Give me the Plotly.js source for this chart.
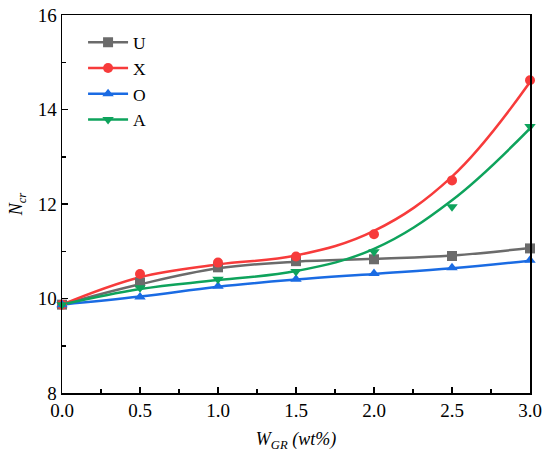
<!DOCTYPE html>
<html>
<head>
<meta charset="utf-8">
<script src="https://cdn.plot.ly/plotly-3.0.1.min.js"></script>
<style>html,body{margin:0;padding:0;background:#fff}#chart{width:550px;height:456px}</style>
</head>
<body>
<div id="chart"></div>
<script>
var xVals = [0, 0.5, 1.0, 1.5, 2.0, 2.5, 3.0];
var seriesNames = ['U', 'X', 'O', 'A'];
// measured points
var uVals = [9.87, 10.34, 10.66, 10.79, 10.83, 10.90, 11.06];
var xSerVals = [9.87, 10.52, 10.76, 10.89, 11.36, 12.50, 14.62];
var oVals = [9.87, 10.03, 10.26, 10.41, 10.53, 10.65, 10.81];
var aVals = [9.87, 10.23, 10.41, 10.57, 10.99, 11.94, 13.64];
// fitted curves
var uFit = [9.87, 10.30, 10.64, 10.78, 10.84, 10.91, 11.07];
var xFit = [9.87, 10.45, 10.72, 10.91, 11.43, 12.58, 14.58];
var oFit = [9.87, 10.04, 10.25, 10.40, 10.52, 10.64, 10.80];
var aFit = [9.87, 10.20, 10.39, 10.58, 11.05, 12.08, 13.60];
var colors = ['#6b6b6b', '#f73b3b', '#1a6be3', '#0ea35c'];
var symbols = ['square', 'circle', 'triangle-up', 'triangle-down'];
var pts = [uVals, xSerVals, oVals, aVals];
var fits = [uFit, xFit, oFit, aFit];

var traces = [];
for (var i = 0; i < 4; i++) {
  traces.push({x: xVals, y: fits[i], mode: 'lines', line: {color: colors[i], width: 2.5, shape: 'spline', smoothing: 1.1},
    showlegend: false, hoverinfo: 'skip', cliponaxis: false});
}
for (var i = 0; i < 4; i++) {
  traces.push({x: xVals, y: pts[i], mode: 'markers', marker: {color: colors[i], symbol: symbols[i], size: 10},
    showlegend: false, cliponaxis: false});
}
for (var i = 0; i < 4; i++) {
  traces.push({x: [null], y: [null], name: seriesNames[i], mode: 'lines+markers',
    line: {color: colors[i], width: 2.5}, marker: {color: colors[i], symbol: symbols[i], size: 10}});
}

var font = 'Liberation Serif';
var layout = {
  width: 550, height: 456,
  margin: {l: 62, r: 20, t: 15, b: 63},
  paper_bgcolor: '#fff', plot_bgcolor: '#fff',
  font: {family: font, size: 19, color: '#000'},
  showlegend: true,
  legend: {x: 0.045, y: 0.975, xanchor: 'left', yanchor: 'top', bgcolor: 'rgba(0,0,0,0)',
    font: {family: font, size: 17.5, color: '#000'}, tracegroupgap: 0, itemwidth: 40},
  xaxis: {
    range: [0, 3], tickvals: [0, 0.5, 1, 1.5, 2, 2.5, 3],
    ticktext: ['0.0', '0.5', '1.0', '1.5', '2.0', '2.5', '3.0'],
    ticks: 'inside', ticklen: 6, tickwidth: 1.5, tickcolor: '#000',
    tickfont: {family: font, size: 19, color: '#000'},
    minor: {dtick: 0.25, ticks: 'inside', ticklen: 4, tickwidth: 1.5, tickcolor: '#000'},
    showline: true, linecolor: '#000', linewidth: 1.5, mirror: true,
    showgrid: false, zeroline: false,
    title: {text: '<i>W</i><sub><i>GR</i></sub><i> (wt%)</i>', font: {family: font, size: 18}, standoff: 12}
  },
  yaxis: {
    range: [8, 16], dtick: 2, tick0: 8,
    ticks: 'inside', ticklen: 6, tickwidth: 1.5, tickcolor: '#000',
    tickfont: {family: font, size: 19, color: '#000'},
    minor: {dtick: 1, ticks: 'inside', ticklen: 4, tickwidth: 1.5, tickcolor: '#000'},
    showline: true, linecolor: '#000', linewidth: 1.5, mirror: true,
    showgrid: false, zeroline: false,
    title: {text: '<i>N</i><sub><i>cr</i></sub>', font: {family: font, size: 18}, standoff: 10}
  }
};
Plotly.newPlot('chart', traces, layout, {displayModeBar: false, staticPlot: true});
</script>
</body>
</html>
